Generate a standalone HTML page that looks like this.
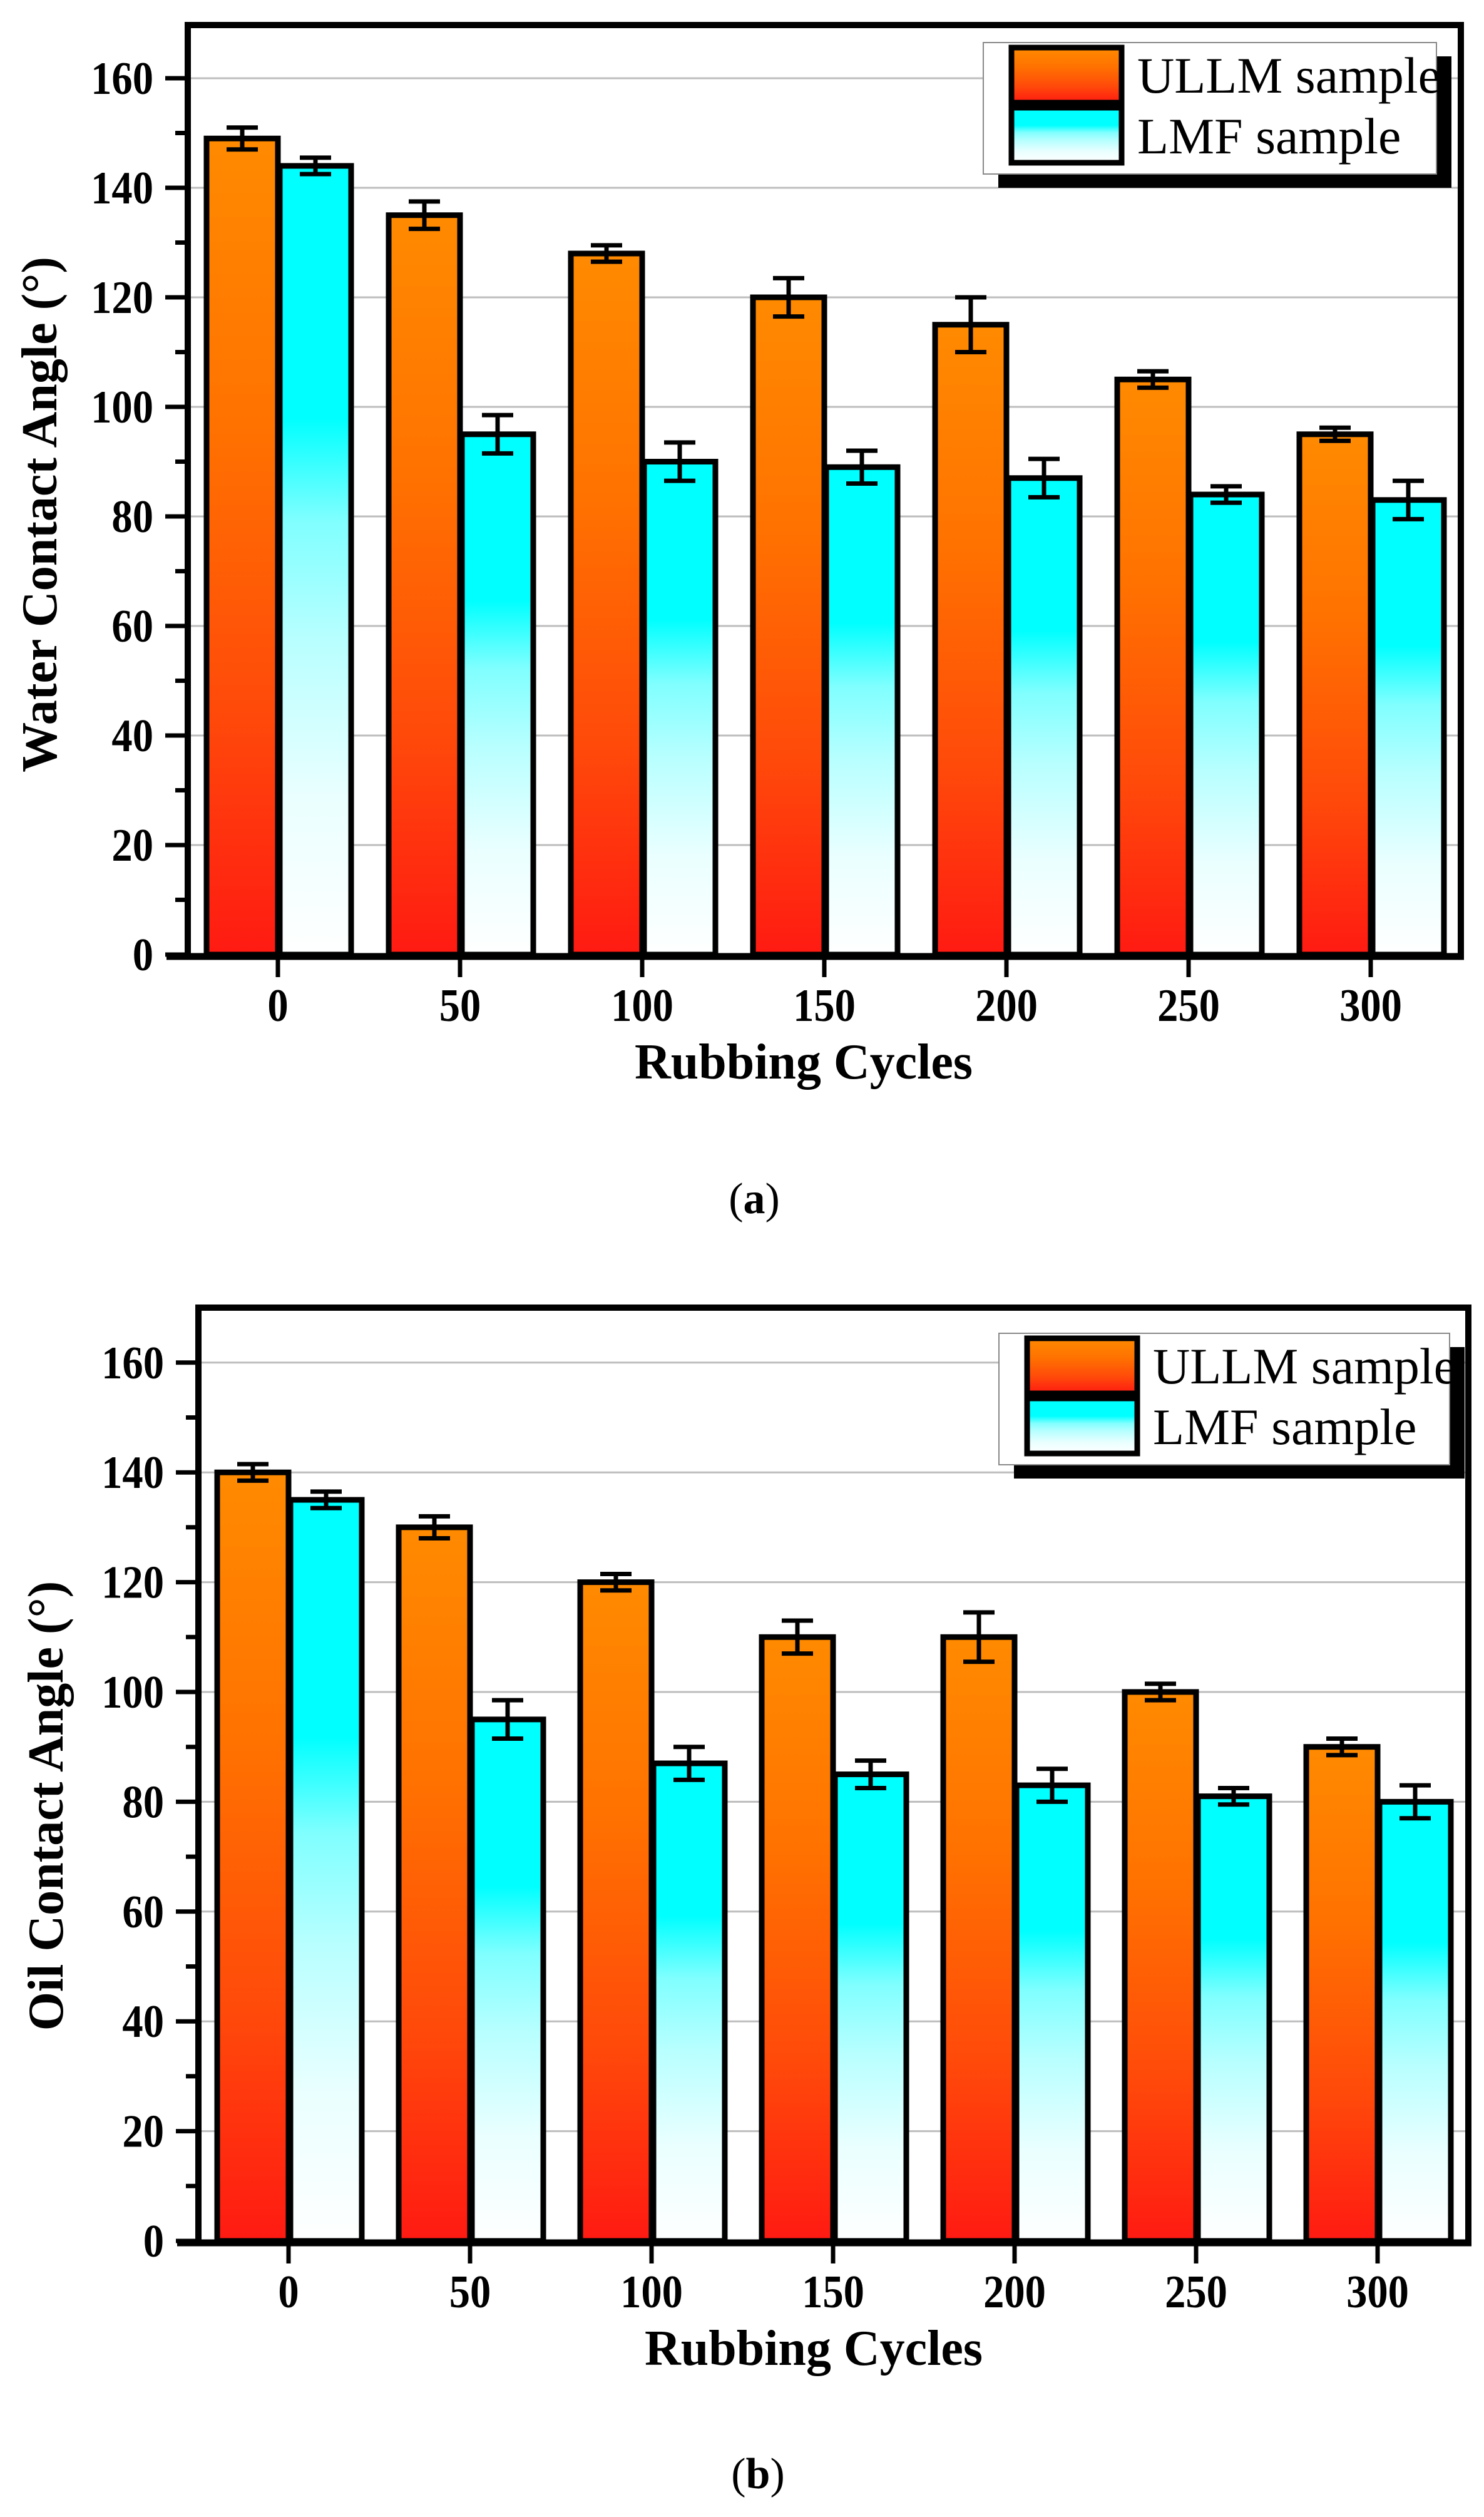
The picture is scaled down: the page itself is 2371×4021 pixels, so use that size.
<!DOCTYPE html>
<html><head><meta charset="utf-8"><style>
html,body{margin:0;padding:0;background:#fff;}
svg{display:block;}
text{font-family:"Liberation Serif",serif;}
</style></head><body>
<svg id="svg" width="2371" height="4021" viewBox="0 0 2371 4021" xmlns="http://www.w3.org/2000/svg">
<defs>
<linearGradient id="gOr" x1="0" y1="0" x2="0" y2="1">
<stop offset="0" stop-color="#ff8a00"/><stop offset="0.35" stop-color="#ff7200"/><stop offset="0.7" stop-color="#ff4a0a"/><stop offset="1" stop-color="#ff1a12"/></linearGradient>
<linearGradient id="gCy" x1="0" y1="0" x2="0" y2="1">
<stop offset="0" stop-color="#00ffff"/><stop offset="0.32" stop-color="#00ffff"/><stop offset="0.45" stop-color="#80ffff"/><stop offset="0.6" stop-color="#b8ffff"/><stop offset="0.8" stop-color="#eaffff"/><stop offset="1" stop-color="#ffffff"/></linearGradient>
</defs>
</svg>
<script>
const categories = ["0","50","100","150","200","250","300"];
const waterULLM = [149,135,128,120,115,105,95];
const waterULLMErr = [2,2.5,1.5,3.5,5,1.5,1.2];
const waterLMF = [144,95,90,89,87,84,83];
const waterLMFErr = [1.5,3.5,3.5,3,3.5,1.5,3.5];
const oilULLM = [140,130,120,110,110,100,90];
const oilULLMErr = [1.5,2,1.5,3,4.5,1.5,1.5];
const oilLMF = [135,95,87,85,83,81,80];
const oilLMFErr = [1.5,3.5,3,2.5,3,1.5,3];
const yTicks = [0,20,40,60,80,100,120,140,160];

const NS="http://www.w3.org/2000/svg";
const svg=document.getElementById('svg');
function el(tag,attrs,parent){const e=document.createElementNS(NS,tag);for(const k in attrs)e.setAttribute(k,attrs[k]);(parent||svg).appendChild(e);return e;}

function chart(cfg){
  const g=el('g',{});
  
  
  const y=v=>cfg.y0-v*cfg.unit;
  const x=i=>cfg.c0+i*cfg.step;
  yTicks.forEach(t=>{ if(t>0){const l=el('line',{x1:cfg.left,x2:cfg.right,y1:y(t),y2:y(t),stroke:'#bdbdbd','stroke-width':3},g);
    
    }});
  categories.forEach((c,i)=>{
    const vals=[[cfg.s1,cfg.e1,'url(#gOr)',-114,'ullm'],[cfg.s2,cfg.e2,'url(#gCy)',3,'lmf']];
    vals.forEach(([s,e,f,off,nm])=>{
      const top=y(s[i]);
      const r=el('rect',{x:x(i)+off,y:top,width:114,height:cfg.y0-top,fill:f,stroke:'#000','stroke-width':9},g);
      
      
      const cx=x(i)+off+57;
      const eg=el('g',{stroke:'#000','stroke-width':7},g);
      
      
      el('line',{x1:cx,x2:cx,y1:y(s[i]+e[i]),y2:y(s[i]-e[i])},eg);
      el('line',{x1:cx-25,x2:cx+25,y1:y(s[i]+e[i]),y2:y(s[i]+e[i])},eg);
      el('line',{x1:cx-25,x2:cx+25,y1:y(s[i]-e[i]),y2:y(s[i]-e[i])},eg);
    });
  });
  const fr=el('path',{d:`M${cfg.left} ${cfg.y0} V${cfg.top} H${cfg.right} V${cfg.y0}`,fill:'none',stroke:'#000','stroke-width':10},g);
  
  
  const xa=el('line',{x1:cfg.left-34,x2:cfg.right+5,y1:cfg.y0+3,y2:cfg.y0+3,stroke:'#000','stroke-width':11},g);
  
  
  yTicks.forEach(t=>{
    el('line',{x1:cfg.left-36,x2:cfg.left,y1:y(t),y2:y(t),stroke:'#000','stroke-width':7},g);
    if(t<160) el('line',{x1:cfg.left-20,x2:cfg.left,y1:y(t+10),y2:y(t+10),stroke:'#000','stroke-width':7},g);
    const tl=el('text',{'text-anchor':'end','font-size':74,'font-weight':'bold',transform:`translate(${cfg.left-55},${y(t)+25}) scale(0.9,1)`},g);
    tl.textContent=t;
    
    
  });
  categories.forEach((c,i)=>{
    el('line',{x1:x(i),x2:x(i),y1:cfg.y0,y2:cfg.y0+36,stroke:'#000','stroke-width':7},g);
    const tl=el('text',{'text-anchor':'middle','font-size':74,'font-weight':'bold',transform:`translate(${x(i)},${cfg.y0+106}) scale(0.9,1)`},g);
    tl.textContent=c;
    
    
  });
  const xt=el('text',{x:cfg.xtx,y:cfg.xty,'text-anchor':'middle','font-size':80,'font-weight':'bold'},g);
  xt.textContent='Rubbing Cycles';
  
  
  const yt=el('text',{x:0,y:0,'text-anchor':'middle','font-size':80,'font-weight':'bold',transform:`translate(${cfg.ytx},${cfg.yty}) rotate(-90)`},g);
  yt.textContent=cfg.ytitle;
  
  
  const L=cfg.leg;
  const lg=el('g',{},g);
  
  
  el('rect',{x:L.x+24,y:L.y+22,width:L.w,height:L.h,fill:'#000'},lg);
  el('rect',{x:L.x,y:L.y,width:L.w,height:L.h,fill:'#fff',stroke:'#888','stroke-width':2},lg);
  el('rect',{x:L.x+45,y:L.y+8,width:176,height:88,fill:'url(#gOr)',stroke:'#000','stroke-width':9},lg);
  el('rect',{x:L.x+45,y:L.y+104,width:176,height:88,fill:'url(#gCy)',stroke:'#000','stroke-width':9},lg);
  const t1=el('text',{x:L.x+246,y:L.y+80,'font-size':82},lg);t1.textContent='ULLM sample';
  
  
  const t2=el('text',{x:L.x+246,y:L.y+177,'font-size':82},lg);t2.textContent='LMF sample';
  
  
  const cap=el('text',{x:cfg.capx,y:cfg.capy,'text-anchor':'middle','font-size':70},g);
  cap.innerHTML='(<tspan font-weight="bold">'+cfg.cap+'</tspan>)';
  
  
}
chart({name:'chart-water',s1:waterULLM,e1:waterULLMErr,s2:waterLMF,e2:waterLMFErr,y0:1525,unit:8.75,c0:444,step:291,left:300,right:2334,top:40,
  xtx:1284,xty:1723,ytx:90,yty:822,ytitle:'Water Contact Angle (°)',leg:{x:1571,y:68,w:724,h:210},capx:1205,capy:1938,cap:'a'});
chart({name:'chart-oil',s1:oilULLM,e1:oilULLMErr,s2:oilLMF,e2:oilLMFErr,y0:3580,unit:8.77,c0:461,step:290,left:317,right:2346,top:2089,
  xtx:1300,xty:3778,ytx:100,yty:2885,ytitle:'Oil Contact Angle (°)',leg:{x:1596,y:2130,w:720,h:210},capx:1211,capy:3975,cap:'b'});
</script>
</body></html>
